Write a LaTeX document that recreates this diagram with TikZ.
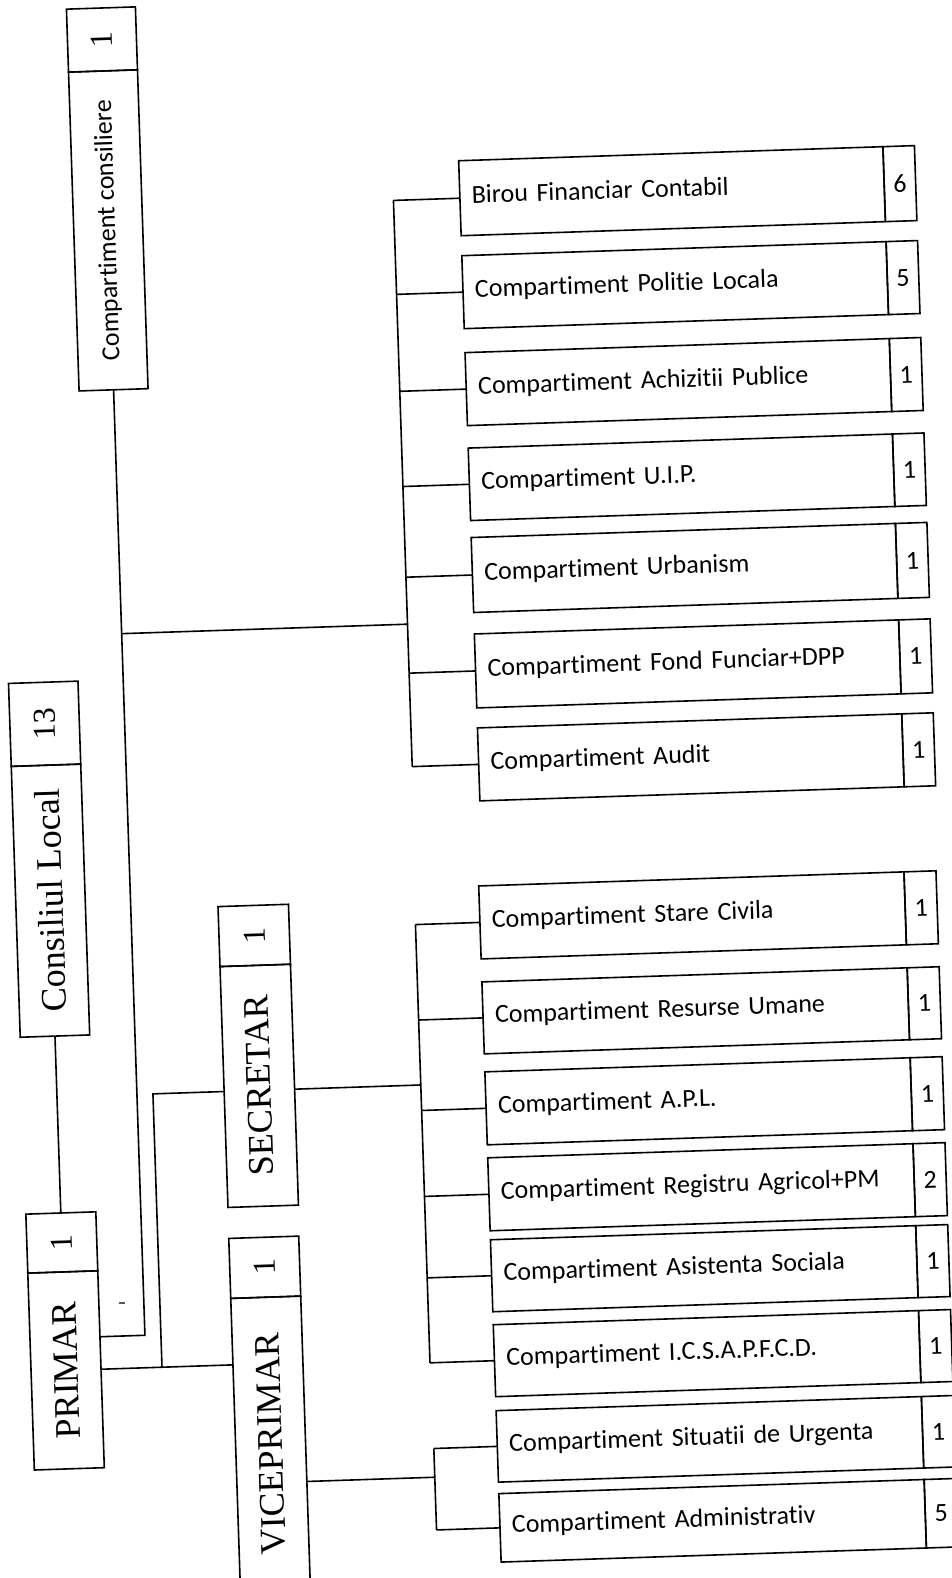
\documentclass[tikz,border=0pt]{standalone}
\usepackage{fontspec}
\setmainfont{Liberation Serif}
\newfontfamily\calib[Ligatures=NoCommon]{Carlito}
\begin{document}
\begin{tikzpicture}[x=1pt,y=-1pt,
  ln/.style={line width=1.6pt},
  rbox/.style={draw,line width=1.6pt,outer sep=0pt,inner xsep=12pt,inner ysep=0pt,
     font=\calib\fontsize{26}{30}\selectfont,align=left,anchor=north west,
     text height=17pt,text depth=6pt},
  g1/.style={rbox,text width=400.5pt},
  g2/.style={rbox,text width=401.5pt},
  ncell/.style={draw,line width=1.6pt,outer sep=0pt,inner sep=0pt,
     font=\calib\fontsize{26}{30}\selectfont,anchor=north west},
  n1/.style={ncell,minimum width=31.5pt},
  n2/.style={ncell,minimum width=32pt},
  lmain/.style={draw,line width=1.6pt,outer sep=0pt,inner sep=0pt,rotate=90,
     font=\fontsize{36}{40}\selectfont},
  lcell/.style={draw,line width=1.6pt,outer sep=0pt,inner sep=0pt,rotate=90,
     font=\fontsize{32}{36}\selectfont},
  smain/.style={lmain,font=\calib\fontsize{26}{30}\selectfont},
]
\useasboundingbox (0,0) rectangle (952,1578);
\fill[white] (0,0) rectangle (952,1578);
\begin{scope}[transform canvas={rotate around={1.9:(476,789)}}]
% left column
\node[lcell,minimum width=63pt,minimum height=69pt] (consN) at (127,27.5) {1};
\node[smain,minimum width=319pt,minimum height=69pt] (cons) at (127,218.5) {Compartiment consiliere};
\node[lcell,minimum width=83pt,minimum height=69.5pt] (clN) at (47,709.5) {13};
\node[lmain,minimum width=271pt,minimum height=69.5pt] (cl) at (47,886.5) {Consiliul Local};
\node[lcell,minimum width=59pt,minimum height=70pt] (prN) at (47,1228.5) {1};
\node[lmain,minimum width=197pt,minimum height=70pt] (pr) at (47,1356.5) {PRIMAR};
\node[lcell,minimum width=60pt,minimum height=70.5pt] (secN) at (249.5,928) {1};
\node[lmain,minimum width=241pt,minimum height=70.5pt] (sec) at (249.5,1078.5) {SECRETAR};
\node[lcell,minimum width=60pt,minimum height=70pt] (viceN) at (249,1260) {1};
\node[lmain,minimum width=294pt,minimum height=70pt] (vice) at (249,1437) {VICEPRIMAR};
% group 1
\node[g1,minimum height=75pt] (birou) at (479.5,160.5) {Birou Financiar Contabil};
\node[n1,minimum height=75pt] (birouN) at (birou.north east) {6};
\node[g1,minimum height=73pt] (politie) at (479.5,255.5) {Compartiment Politie Locala};
\node[n1,minimum height=73pt] (politieN) at (politie.north east) {5};
\node[g1,minimum height=73pt] (achiz) at (479.5,352.5) {Compartiment Achizitii Publice};
\node[n1,minimum height=73pt] (achizN) at (achiz.north east) {1};
\node[g1,minimum height=72.5pt] (uip) at (479.5,448) {Compartiment U.I.P.};
\node[n1,minimum height=72.5pt] (uipN) at (uip.north east) {1};
\node[g1,minimum height=75pt] (urban) at (479.5,537.5) {Compartiment Urbanism};
\node[n1,minimum height=75pt] (urbanN) at (urban.north east) {1};
\node[g1,minimum height=74pt] (fond) at (479.5,634) {Compartiment Fond Funciar+DPP};
\node[n1,minimum height=74pt] (fondN) at (fond.north east) {1};
\node[g1,minimum height=73pt] (audit) at (479.5,728) {Compartiment Audit};
\node[n1,minimum height=73pt] (auditN) at (audit.north east) {1};
% group 2
\node[g2,minimum height=73pt] (stare) at (475.5,886) {Compartiment Stare Civila};
\node[n2,minimum height=73pt] (stareN) at (stare.north east) {1};
\node[g2,minimum height=72pt] (resurse) at (475.5,982) {Compartiment Resurse Umane};
\node[n2,minimum height=72pt] (resurseN) at (resurse.north east) {1};
\node[g2,minimum height=73pt] (apl) at (475.5,1072) {Compartiment A.P.L.};
\node[n2,minimum height=73pt] (aplN) at (apl.north east) {1};
\node[g2,minimum height=73pt] (registru) at (475.5,1158) {Compartiment Registru Agricol+PM};
\node[n2,minimum height=73pt] (registruN) at (registru.north east) {2};
\node[g2,minimum height=72pt] (asist) at (475.5,1240) {Compartiment Asistenta Sociala};
\node[n2,minimum height=72pt] (asistN) at (asist.north east) {1};
\node[g2,minimum height=72pt] (ics) at (475.5,1325) {Compartiment I.C.S.A.P.F.C.D.};
\node[n2,minimum height=72pt] (icsN) at (ics.north east) {1};
\node[g2,minimum height=71.5pt] (situ) at (475.5,1411) {Compartiment Situatii de Urgenta};
\node[n2,minimum height=71.5pt] (situN) at (situ.north east) {1};
\node[g2,minimum height=68.5pt] (admin) at (475.5,1494) {Compartiment Administrativ};
\node[n2,minimum height=68.5pt] (adminN) at (admin.north east) {5};
% connectors
\draw[ln] (cl.west) -- (prN.east);
\coordinate (cb) at (127,1324);
\draw[ln] (cons.west) -- (cb) -- (cb -| pr.south);
\draw[line width=1.2pt] (102,1291) -- (108,1291);
\coordinate (t1) at (413,622);
\draw[ln] (cons.west |- t1) -- (t1);
\draw[ln] (birou.west -| t1) -- (audit.west -| t1);
\foreach \b in {birou,politie,achiz,uip,urban,fond,audit}
  \draw[ln] (\b.west -| t1) -- (\b.west);
\draw[ln] (pr.south) -- (pr.south -| vice.north);
\coordinate (sj) at (143,1083);
\draw[ln] (sj |- pr.south) -- (sj) -- (sj -| sec.north);
\coordinate (t2) at (411,1083);
\draw[ln] (sj -| sec.south) -- (t2);
\draw[ln] (stare.west -| t2) -- (ics.west -| t2);
\foreach \b in {stare,resurse,apl,registru,asist,ics}
  \draw[ln] (\b.west -| t2) -- (\b.west);
\coordinate (t3) at (412,1475.5);
\draw[ln] (t3 -| vice.south) -- (t3);
\draw[ln] (situ.west -| t3) -- (admin.west -| t3);
\foreach \b in {situ,admin}
  \draw[ln] (\b.west -| t3) -- (\b.west);
\end{scope}
\end{tikzpicture}
\end{document}
